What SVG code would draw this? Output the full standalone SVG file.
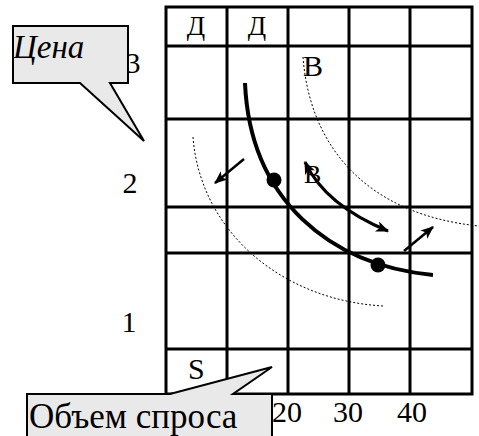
<svg xmlns="http://www.w3.org/2000/svg" width="479" height="436" viewBox="0 0 479 436">
<style>
.grid{stroke:#000;stroke-width:3;fill:none}
.t{font-family:"Liberation Serif","Times New Roman",serif;fill:#000}
.thick{stroke:#000;stroke-width:4;fill:none;stroke-linecap:butt}
.arr{stroke:#000;stroke-width:3;fill:none}
.arr2{stroke:#000;stroke-width:2.5;fill:none}
.dot{stroke:#000;stroke-width:1;stroke-dasharray:2 2;fill:none}
.callout{fill:#e9e9e9;stroke:#000;stroke-width:2}
</style>
<defs>
<marker id="ah" viewBox="0 0 12 10" refX="11" refY="5" markerWidth="13" markerHeight="11" markerUnits="userSpaceOnUse" orient="auto-start-reverse">
<path d="M0,0 L12,5 L0,10 L3,5 Z" fill="#000"/>
</marker>
</defs>
<rect width="479" height="436" fill="#fff"/>
<g id="grid">
<rect class="grid" x="166" y="7" width="306" height="387"/>
<path class="grid" d="M227,7V394M288,7V394M349,7V394M410,7V394M166,46H472M166,119H472M166,207H472M166,253H472M166,349H472"/>
</g>
<g id="labels">
<text class="t" x="196" y="35" font-size="27" text-anchor="middle">Д</text>
<text class="t" x="257" y="35" font-size="27" text-anchor="middle">Д</text>
<text class="t" x="133" y="73" font-size="30" text-anchor="middle">3</text>
<text class="t" x="130" y="193" font-size="30" text-anchor="middle">2</text>
<text class="t" x="129" y="332" font-size="30" text-anchor="middle">1</text>
<text class="t" x="303" y="76" font-size="30">В</text>
<text class="t" x="304" y="183" font-size="26">В</text>
<text class="t" x="188" y="379" font-size="30">S</text>
<text class="t" x="287" y="422" font-size="30" text-anchor="middle">20</text>
<text class="t" x="348" y="422" font-size="30" text-anchor="middle">30</text>
<text class="t" x="412" y="422" font-size="30" text-anchor="middle">40</text>
</g>
<g id="connectors">
<path class="dot" d="M193,137 C200,230 280,300 383,306"/>
<path class="dot" d="M303,57 C310,150 370,215 479,226"/>
<path class="thick" d="M245,83 C250,200 330,265 433,275"/>
<path class="arr" d="M305,162 Q325,205 388,231" marker-start="url(#ah)" marker-end="url(#ah)"/>
<path class="arr2" d="M244,159 L215,183" marker-end="url(#ah)"/>
<path class="arr2" d="M404,251 L433,227" marker-end="url(#ah)"/>
</g>
<g id="points">
<circle cx="274" cy="180" r="7.5" fill="#000"/>
<circle cx="378" cy="265" r="7.5" fill="#000"/>
</g>
<g id="callout-price">
<path class="callout" d="M13,26 H128 V83 H110 L144,141 L80,83 H13 Z"/>
<text class="t" x="13" y="58" font-size="33" font-style="italic">Цена</text>
</g>
<g id="callout-volume">
<path class="callout" d="M27,394 H170 L272,367 L233,394 H272 V440 H27 Z"/>
<text class="t" x="29" y="428" font-size="35">Объем спроса</text>
</g>
</svg>
